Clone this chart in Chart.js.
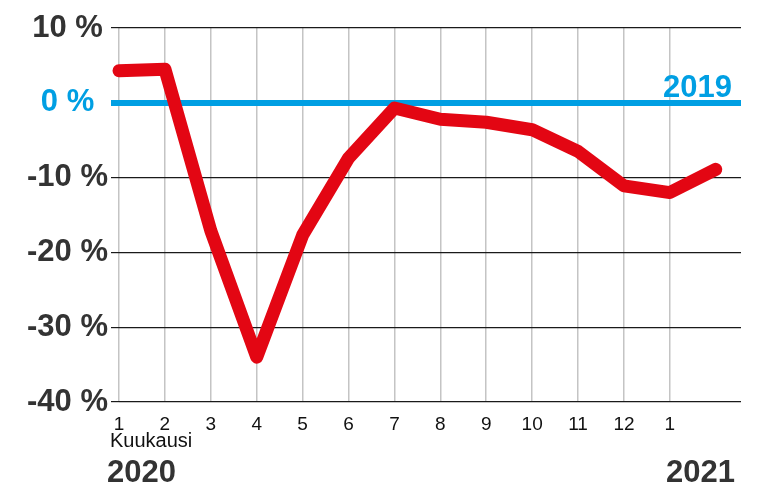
<!DOCTYPE html>
<html>
<head>
<meta charset="utf-8">
<script src="https://cdn.jsdelivr.net/npm/chart.js@4"></script>
<style>
  html, body { margin: 0; padding: 0; background: #fff; }
  #wrap { width: 757px; height: 487px; }
</style>
</head>
<body>
<div id="wrap"><canvas id="chart" width="757" height="487"></canvas></div>
<script>
// months Jan 2020 .. Feb 2021 (last one has no label)
const monthLabels = ['1', '2', '3', '4', '5', '6', '7', '8', '9', '10', '11', '12', '1', ''];
// change vs 2019, %
const change2020 = [4.3, 4.5, -17.1, -34.0, -17.7, -7.4, -0.7, -2.2, -2.6, -3.6, -6.5, -11.1, -12.0, -8.9];
const yTicks = [10, 0, -10, -20, -30, -40];

const FONT = '"Liberation Sans", Arial, sans-serif';
const RED = '#e30613';
const BLUE = '#009fe3';
const DARK = '#333333';

const labelsPlugin = {
  id: 'labels',
  afterDraw(chart) {
    const c = chart.ctx;
    const x = chart.scales.x;
    const y = chart.scales.y;
    c.save();
    c.textBaseline = 'alphabetic';
    c.fillStyle = '#111';
    c.font = '20px ' + FONT;
    c.textAlign = 'center';
    c.fillText('Kuukausi', x.getPixelForValue(0.7), 447);

    c.fillStyle = DARK;
    c.font = 'bold 31px ' + FONT;
    c.textAlign = 'left';
    c.fillText('2020', x.getPixelForValue(0) - 12, 482);
    c.textAlign = 'right';
    c.fillText('2021', x.right - 6, 482);

    c.fillStyle = BLUE;
    c.fillText('2019', x.right - 9, y.getPixelForValue(0) - 6);
    c.restore();
  }
};

new Chart(document.getElementById('chart'), {
  type: 'line',
  data: {
    datasets: [{
      label: '2020',
      data: change2020.map((v, i) => ({ x: i, y: v })),
      borderColor: RED,
      borderWidth: 13,
      borderJoinStyle: 'round',
      borderCapStyle: 'round',
      pointRadius: 0,
      tension: 0,
      clip: false
    }]
  },
  options: {
    responsive: false,
    animation: false,
    layout: { padding: { top: 28, right: 16, left: 0, bottom: 0 } },
    plugins: { legend: { display: false }, tooltip: { enabled: false } },
    scales: {
      x: {
        type: 'linear',
        min: 0,
        max: 13.55,
        afterBuildTicks(scale) {
          scale.ticks = scale.ticks.filter(t => Number.isInteger(t.value));
        },
        afterFit(scale) { scale.height = 85; },
        ticks: {
          stepSize: 1,
          autoSkip: false,
          maxRotation: 0,
          padding: 11,
          color: '#111',
          font: { family: FONT, size: 19 },
          callback: v => monthLabels[v]
        },
        grid: { color: '#c4c4c4', lineWidth: 1.5, drawTicks: false },
        border: { display: false }
      },
      y: {
        min: -40,
        max: 10,
        afterBuildTicks(scale) {
          scale.ticks = yTicks.map(v => ({ value: v }));
        },
        afterFit(scale) { scale.width = 119; },
        ticks: {
          padding: 3,
          crossAlign: 'center',
          color: ctx => ctx.tick && ctx.tick.value === 0 ? BLUE : DARK,
          font: { family: FONT, size: 31, weight: 'bold' },
          callback: v => v + ' %'
        },
        grid: {
          color: ctx => ctx.tick && ctx.tick.value === 0 ? BLUE : '#1a1a1a',
          lineWidth: ctx => ctx.tick && ctx.tick.value === 0 ? 6 : 1.2,
          tickLength: 8
        },
        border: { display: false }
      }
    }
  },
  plugins: [labelsPlugin]
});
</script>
</body>
</html>
